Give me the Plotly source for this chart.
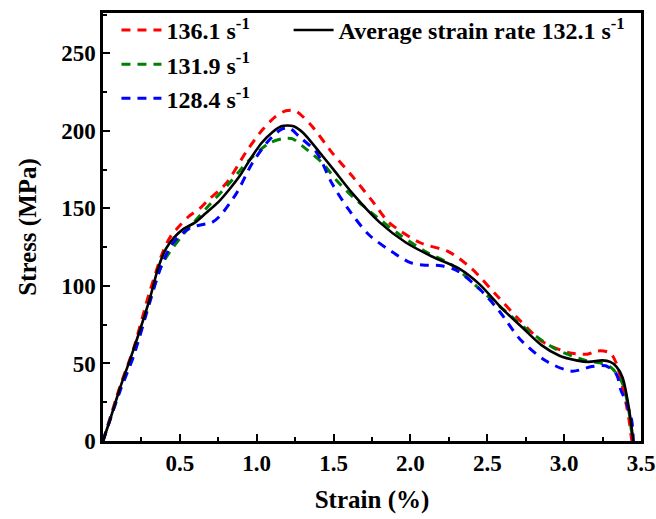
import plotly.graph_objects as go

# ---- data (strain %, stress MPa) ----
avg_x = [0, 0.05, 0.11, 0.195, 0.305, 0.36, 0.41, 0.46, 0.52, 0.60, 0.67, 0.75, 0.82, 0.89, 0.96, 1.03,
         1.10, 1.16, 1.20, 1.24, 1.30, 1.41, 1.50, 1.62, 1.80, 1.97, 2.14, 2.32, 2.45, 2.60, 2.73, 2.85,
         2.97, 3.08, 3.16, 3.25, 3.30, 3.34, 3.38, 3.42, 3.45]
avg_y = [0, 15, 34, 58, 92, 112, 124, 131, 136.5, 141, 147, 154, 162, 171, 182, 192,
         199, 203, 203.5, 203, 199, 186, 175, 160, 141, 128, 119, 111, 101, 85, 73, 62,
         55, 52, 51, 52, 51, 48, 41, 22, 0]

r1_x = [0, 0.11, 0.2, 0.3, 0.39, 0.44, 0.5, 0.56, 0.63, 0.68, 0.8, 0.935, 1.04, 1.12, 1.19, 1.25,
        1.28, 1.36, 1.49, 1.62, 1.75, 1.86, 2.06, 2.25, 2.40, 2.56, 2.70, 2.86, 3.03, 3.15, 3.21,
        3.26, 3.30, 3.34, 3.38, 3.42, 3.44]
r1_y = [0, 35, 60, 95, 122, 132, 139, 145, 150, 155, 166, 187, 201, 209, 213, 213,
        211, 203, 186, 171, 155, 141, 128, 122, 111, 94, 79, 64, 57, 56, 58,
        58, 57, 50, 35, 15, 0]

r2_x = [0, 0.11, 0.2, 0.3, 0.38, 0.435, 0.52, 0.6, 0.69, 0.82, 0.95, 1.08, 1.17, 1.23, 1.30, 1.43,
        1.52, 1.63, 1.75, 1.93, 2.10, 2.27, 2.45, 2.62, 2.77, 2.95, 3.14, 3.25, 3.31, 3.38, 3.42,
        3.44, 3.45]
r2_y = [0, 33, 57, 90, 113, 122, 133, 142, 152, 166, 181, 192, 195, 195, 190, 179,
        168, 157, 147, 133, 122, 113.5, 98, 83.5, 71, 59, 52, 50, 47, 37, 20,
        5, 0]

r3_x = [0, 0.11, 0.2, 0.3, 0.38, 0.45, 0.545, 0.62, 0.71, 0.76, 0.87, 0.97, 1.08, 1.16, 1.21, 1.28,
        1.39, 1.49, 1.60, 1.73, 1.88, 2.00, 2.08, 2.20, 2.30, 2.45, 2.58, 2.71, 2.88, 3.05, 3.18,
        3.27, 3.34, 3.37, 3.40, 3.44, 3.45]
r3_y = [0, 32, 55, 88, 113, 127, 136, 139, 141, 145, 160, 179, 194, 201, 202, 196,
        186, 166, 149, 133, 122, 115, 113.5, 113, 110, 98, 83.5, 66, 51.7, 45, 48,
        48.5, 43, 32.5, 26, 13, 0]

names = ["<b>136.1 s<sup>-1</sup></b>", "<b>131.9 s<sup>-1</sup></b>", "<b>128.4 s<sup>-1</sup></b>"]
avg_name = "<b>Average strain rate 132.1 s<sup>-1</sup></b>"
x_ticks = [0.5, 1.0, 1.5, 2.0, 2.5, 3.0, 3.5]
y_ticks = [0, 50, 100, 150, 200, 250]

FONT = "Times New Roman"

fig = go.Figure()
dash = "9px,7px"
for xs, ys, nm, col in [(r1_x, r1_y, names[0], "#ff0000"),
                        (r2_x, r2_y, names[1], "#008000"),
                        (r3_x, r3_y, names[2], "#0000ff")]:
    fig.add_trace(go.Scatter(x=xs, y=ys, name=nm, mode="lines",
                             line=dict(color=col, width=3, dash=dash, shape="spline", smoothing=0.8),
                             legend="legend"))
fig.add_trace(go.Scatter(x=avg_x, y=avg_y, name=avg_name, mode="lines",
                         line=dict(color="black", width=2.6, shape="spline", smoothing=0.8),
                         legend="legend2"))

axis_common = dict(showline=True, linecolor="black", linewidth=2.5, mirror=True,
                   ticks="inside", ticklen=7, tickwidth=2, tickcolor="black",
                   showgrid=False, zeroline=False, automargin=False,
                   tickfont=dict(family=FONT, size=23, color="black"))

fig.update_xaxes(range=[0, 3.5], tickvals=x_ticks, ticktext=[f"<b>{v:.1f}</b>" for v in x_ticks],
                 minor=dict(ticks="inside", ticklen=4, tickwidth=2, tickcolor="black", dtick=0.25, tick0=0),
                 title=dict(text="<b>Strain (%)</b>", font=dict(family=FONT, size=25, color="black"),
                            standoff=16),
                 **axis_common)
fig.update_yaxes(range=[0, 276], tickvals=y_ticks, ticktext=[f"<b>{v}</b>" for v in y_ticks],
                 minor=dict(ticks="inside", ticklen=4, tickwidth=2, tickcolor="black", dtick=25, tick0=0),
                 title=dict(text="<b>Stress (MPa)</b>", font=dict(family=FONT, size=25, color="black"),
                            standoff=18),
                 **axis_common)

legend_font = dict(family=FONT, size=24, color="black")
fig.update_layout(
    width=656, height=519,
    margin=dict(l=103, r=15, t=8, b=78),
    paper_bgcolor="white", plot_bgcolor="white",
    showlegend=True,
    legend=dict(x=0.025, y=1.012, xanchor="left", yanchor="top", bgcolor="rgba(0,0,0,0)",
                font=legend_font, tracegroupgap=0, itemwidth=40),
    legend2=dict(x=0.345, y=1.012, xanchor="left", yanchor="top", bgcolor="rgba(0,0,0,0)",
                 font=legend_font, itemwidth=40),
)

fig.write_html("out.html", config={"displayModeBar": False},
               post_script="document.body.style.margin='0';")
